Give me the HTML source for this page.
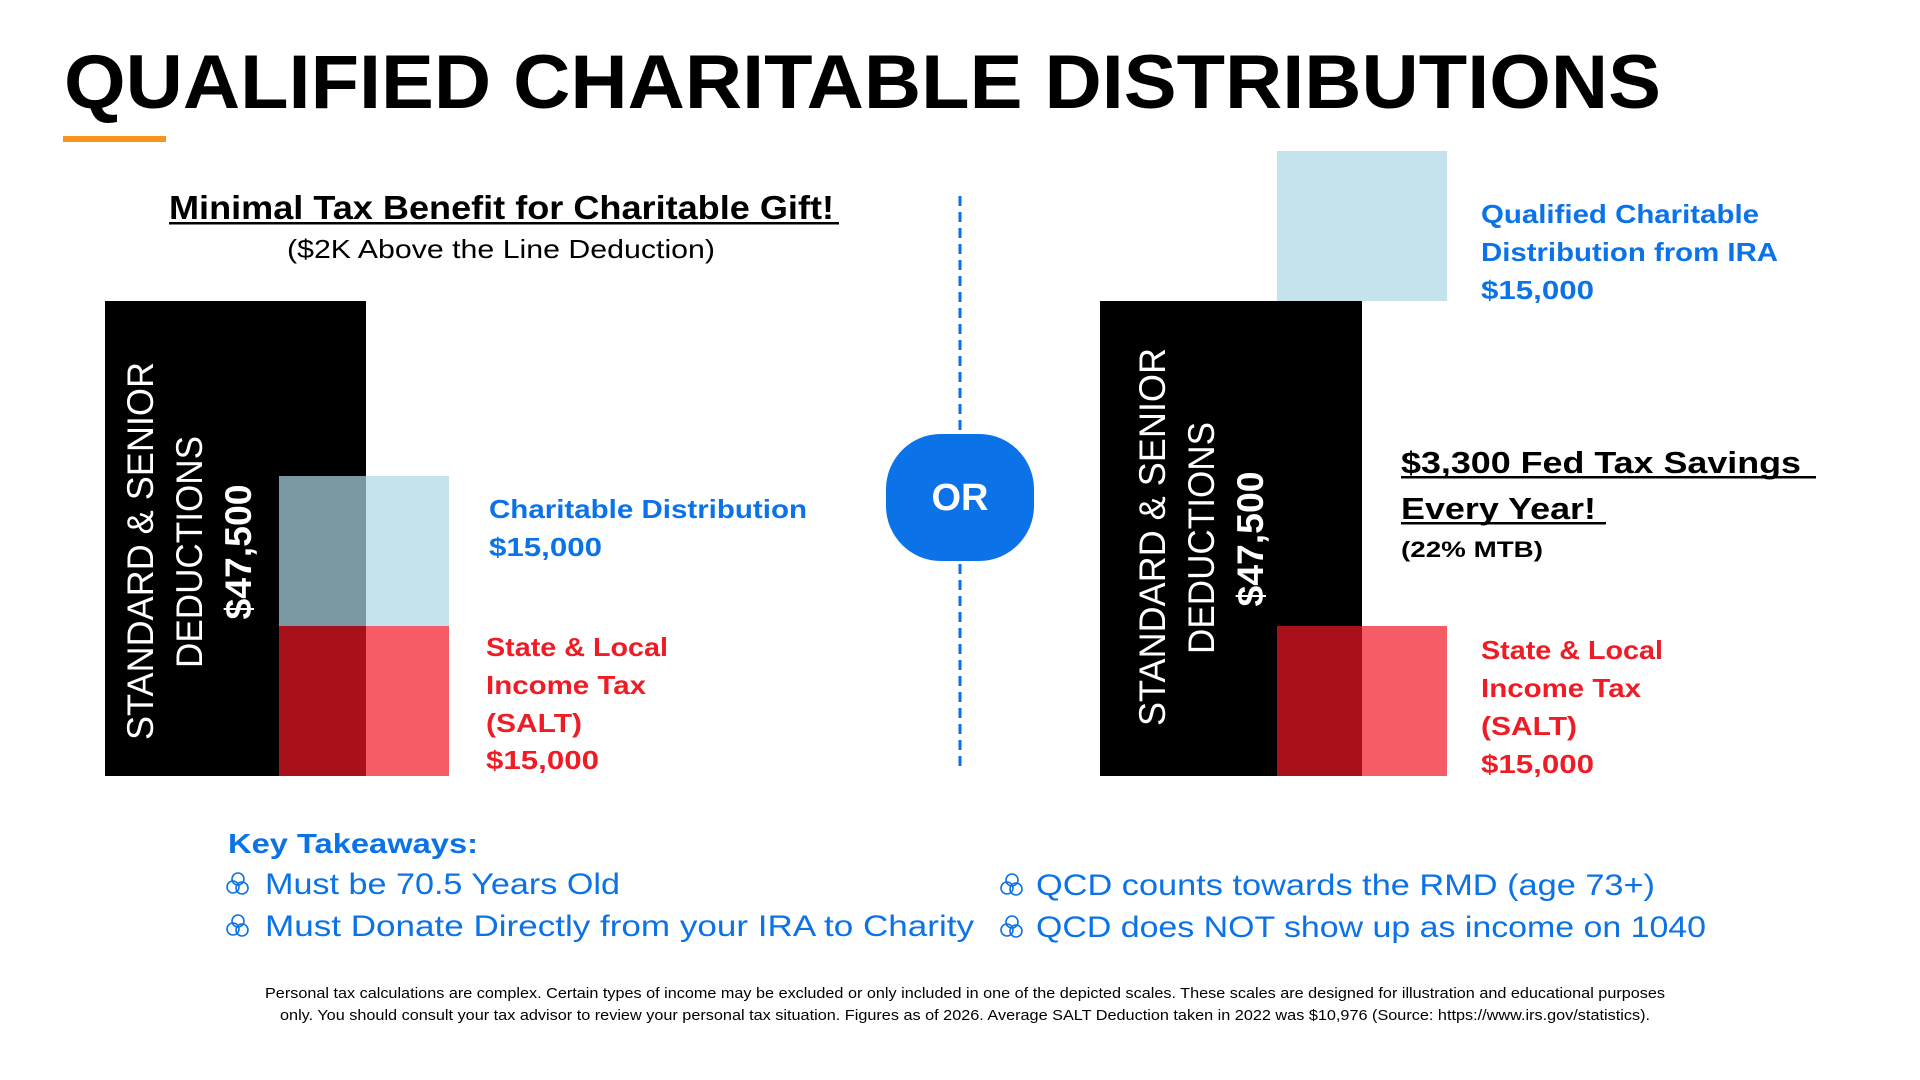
<!DOCTYPE html>
<html><head><meta charset="utf-8"><style>
html,body{margin:0;padding:0;background:#fff;}
svg{display:block;font-family:"Liberation Sans",sans-serif;}
</style></head><body>
<svg id="chart" width="1920" height="1080" viewBox="0 0 1920 1080">
<text x="64" y="108" font-size="76" font-weight="bold" fill="#000" textLength="1597" lengthAdjust="spacingAndGlyphs">QUALIFIED CHARITABLE DISTRIBUTIONS</text>
<rect x="63" y="136" width="103" height="6" fill="#f7941d"/>

<text x="169" y="219" font-size="33" font-weight="bold" fill="#000" textLength="665" lengthAdjust="spacingAndGlyphs">Minimal Tax Benefit for Charitable Gift!</text>
<rect x="169" y="222" width="670" height="2.5" fill="#000"/>
<text x="287" y="258" font-size="26" fill="#000" textLength="428" lengthAdjust="spacingAndGlyphs">($2K Above the Line Deduction)</text>

<g id="bars"></g>

<g fill="#fff" font-size="37">
<text transform="translate(153,551) rotate(-90)" text-anchor="middle" textLength="378" lengthAdjust="spacingAndGlyphs">STANDARD &amp; SENIOR</text>
<text transform="translate(202,552) rotate(-90)" text-anchor="middle" textLength="232" lengthAdjust="spacingAndGlyphs">DEDUCTIONS</text>
<text transform="translate(251,552) rotate(-90)" text-anchor="middle" font-weight="bold" textLength="135" lengthAdjust="spacingAndGlyphs">$47,500</text>
</g>
<g fill="#fff" font-size="37">
<text transform="translate(1165,537) rotate(-90)" text-anchor="middle" textLength="378" lengthAdjust="spacingAndGlyphs">STANDARD &amp; SENIOR</text>
<text transform="translate(1214,538) rotate(-90)" text-anchor="middle" textLength="232" lengthAdjust="spacingAndGlyphs">DEDUCTIONS</text>
<text transform="translate(1263,539) rotate(-90)" text-anchor="middle" font-weight="bold" textLength="135" lengthAdjust="spacingAndGlyphs">$47,500</text>
</g>

<g font-size="26" font-weight="bold" fill="#0b72e7">
<text x="489" y="518" textLength="318" lengthAdjust="spacingAndGlyphs">Charitable Distribution</text>
<text x="489" y="556" textLength="113" lengthAdjust="spacingAndGlyphs">$15,000</text>
</g>
<g font-size="26" font-weight="bold" fill="#ee1c25">
<text x="486" y="656" textLength="182" lengthAdjust="spacingAndGlyphs">State &amp; Local</text>
<text x="486" y="694" textLength="160" lengthAdjust="spacingAndGlyphs">Income Tax</text>
<text x="486" y="732" textLength="96" lengthAdjust="spacingAndGlyphs">(SALT)</text>
<text x="486" y="769" textLength="113" lengthAdjust="spacingAndGlyphs">$15,000</text>
</g>

<line x1="960" y1="196" x2="960" y2="770" stroke="#0b72e7" stroke-width="3" stroke-dasharray="10,6"/>
<rect x="886" y="434" width="148" height="127" rx="55" fill="#0b72e7"/>
<text x="960" y="510" font-size="38" font-weight="bold" fill="#fff" text-anchor="middle">OR</text>

<g font-size="26" font-weight="bold" fill="#0b72e7">
<text x="1481" y="223" textLength="278" lengthAdjust="spacingAndGlyphs">Qualified Charitable</text>
<text x="1481" y="261" textLength="297" lengthAdjust="spacingAndGlyphs">Distribution from IRA</text>
<text x="1481" y="299" textLength="113" lengthAdjust="spacingAndGlyphs">$15,000</text>
</g>
<g font-weight="bold" fill="#000">
<text x="1401" y="473" font-size="31" textLength="400" lengthAdjust="spacingAndGlyphs">$3,300 Fed Tax Savings</text>
<rect x="1401" y="476" width="415" height="2.5"/>
<text x="1401" y="519" font-size="31" textLength="195" lengthAdjust="spacingAndGlyphs">Every Year!</text>
<rect x="1401" y="522" width="205" height="2.5"/>
<text x="1401" y="557" font-size="22" textLength="142" lengthAdjust="spacingAndGlyphs">(22% MTB)</text>
</g>
<g font-size="26" font-weight="bold" fill="#ee1c25">
<text x="1481" y="659" textLength="182" lengthAdjust="spacingAndGlyphs">State &amp; Local</text>
<text x="1481" y="697" textLength="160" lengthAdjust="spacingAndGlyphs">Income Tax</text>
<text x="1481" y="735" textLength="96" lengthAdjust="spacingAndGlyphs">(SALT)</text>
<text x="1481" y="773" textLength="113" lengthAdjust="spacingAndGlyphs">$15,000</text>
</g>

<text x="228" y="853" font-size="28" font-weight="bold" fill="#0b72e7" textLength="250" lengthAdjust="spacingAndGlyphs">Key Takeaways:</text>
<g fill="#0b72e7" font-size="30">
<text x="265" y="894" textLength="355" lengthAdjust="spacingAndGlyphs">Must be 70.5 Years Old</text>
<text x="265" y="936" textLength="709" lengthAdjust="spacingAndGlyphs">Must Donate Directly from your IRA to Charity</text>
<text x="1036" y="895" textLength="619" lengthAdjust="spacingAndGlyphs">QCD counts towards the RMD (age 73+)</text>
<text x="1036" y="937" textLength="670" lengthAdjust="spacingAndGlyphs">QCD does NOT show up as income on 1040</text>
</g>
<g id="icons" fill="none" stroke="#0b72e7" stroke-width="1.6"></g>

<g font-size="15" fill="#000" text-anchor="middle">
<text x="965" y="998" textLength="1400" lengthAdjust="spacingAndGlyphs">Personal tax calculations are complex. Certain types of income may be excluded or only included in one of the depicted scales. These scales are designed for illustration and educational purposes</text>
<text x="965" y="1020" textLength="1370" lengthAdjust="spacingAndGlyphs">only. You should consult your tax advisor to review your personal tax situation. Figures as of 2026. Average SALT Deduction taken in 2022 was $10,976 (Source: https://www.irs.gov/statistics).</text>
</g>
</svg>
<script>
const blockNames = ['left-deductions','left-salt','left-charitable','right-deductions','right-salt','right-qcd'];
const blockStart = [0, 0, 15000, 0, 0, 47500];
const blockValues = [47500, 15000, 15000, 47500, 15000, 15000];
const blockKinds = ['ded','salt','char','ded','salt','char'];
const blockSide = ['L','L','L','R','R','R'];
const NS = 'http://www.w3.org/2000/svg';
const baseY = 776;
function y(v){ return baseY - v/100; }
const layout = {L:{ded:[105,366], box:[279,449]}, R:{ded:[1100,1362], box:[1277,1447]}};
const g = document.getElementById('bars');
function mk(x0,x1,y0,y1,fill,name){
  const r = document.createElementNS(NS,'rect');
  r.setAttribute('x',x0); r.setAttribute('width',x1-x0);
  r.setAttribute('y',y1); r.setAttribute('height',y0-y1);
  r.setAttribute('fill',fill);
  
  
  g.appendChild(r);
}
for (let i=0;i<blockNames.length;i++){
  const L = layout[blockSide[i]];
  const y0 = y(blockStart[i]), y1 = y(blockStart[i]+blockValues[i]);
  if (blockKinds[i]==='ded'){ mk(L.ded[0],L.ded[1],y0,y1,'#000',blockNames[i]); continue; }
  const light = blockKinds[i]==='salt' ? '#f65c65' : '#c5e3ec';
  const dark = blockKinds[i]==='salt' ? '#a8101a' : '#7a98a2';
  mk(L.box[0],L.box[1],y0,y1,light,blockNames[i]);
  const dedIdx = blockSide.indexOf(blockSide[i]);
  const dTop = blockStart[dedIdx]+blockValues[dedIdx];
  const oTop = Math.min(dTop, blockStart[i]+blockValues[i]);
  if (oTop > blockStart[i]) mk(L.box[0],L.ded[1],y0,y(oTop),dark,blockNames[i]+'-overlap');
}
const ic = document.getElementById('icons');
[[230,884],[230,926],[1004,885],[1004,927]].forEach(p=>{
  [[0,-5],[-5,3],[4,4]].forEach(o=>{
    const c = document.createElementNS(NS,'circle');
    c.setAttribute('cx',p[0]+8+o[0]); c.setAttribute('cy',p[1]+o[1]); c.setAttribute('r',6);
    
    
    ic.appendChild(c);
  });
});
</script>
</body></html>
